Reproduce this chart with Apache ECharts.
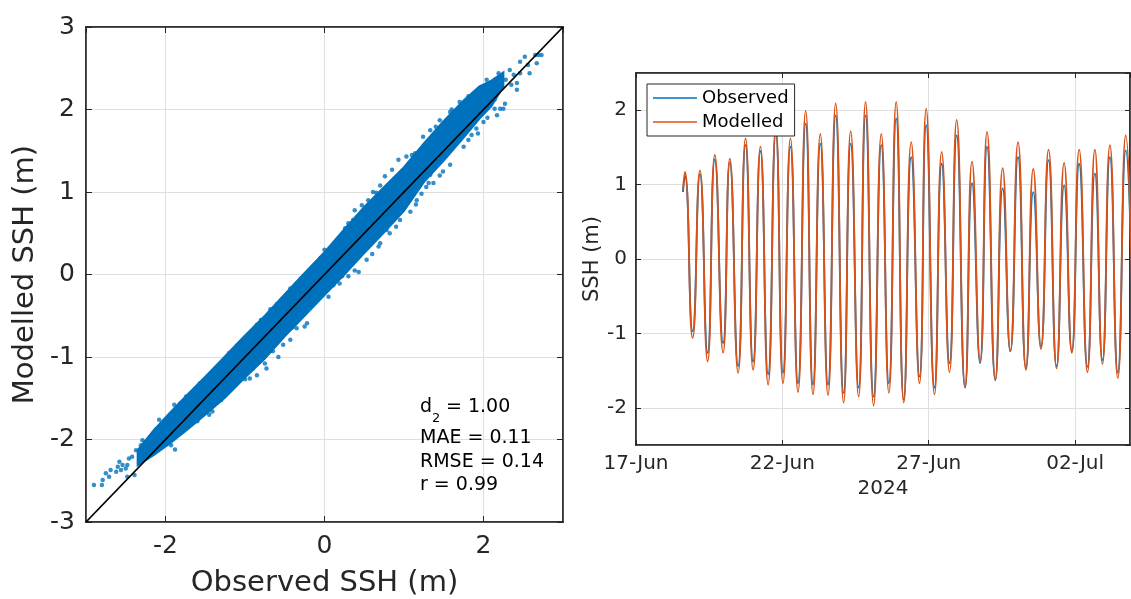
<!DOCTYPE html>
<html>
<head>
<meta charset="utf-8">
<script src="https://cdn.jsdelivr.net/npm/echarts@6/dist/echarts.min.js"></script>
<style>
html,body{margin:0;padding:0;background:#ffffff;}
#chart{width:1131px;height:599px;}
</style>
</head>
<body>
<div id="chart"></div>
<script>
// ---------- Left panel: scatter Observed vs Modelled ----------
// dense core of the point cloud (observed SSH, lower and upper modelled SSH)
const bandObs  = [-2.35, -2.15, -1.95, -1.75, -1.50, -1.25, -1.00, -0.75, -0.50, -0.25, 0.00, 0.25, 0.50, 0.75, 1.00, 1.25, 1.50, 1.75, 1.95, 2.10, 2.25];
const bandLow  = [-2.31, -2.19, -2.05, -1.90, -1.70, -1.49, -1.25, -1.02, -0.75, -0.50, -0.25, 0.00, 0.26, 0.51, 0.77, 1.12, 1.38, 1.66, 1.89, 2.04, 2.28];
const bandHigh = [-2.13, -1.89, -1.68, -1.48, -1.24, -0.99, -0.74, -0.50, -0.24, 0.02, 0.27, 0.55, 0.82, 1.06, 1.30, 1.59, 1.86, 2.11, 2.28, 2.35, 2.45];

// individual scattered points around the cloud
const scatObs = [-2.90,-2.80,-2.79,-2.75,-2.71,-2.69,-2.62,-2.60,-2.58,-2.56,-2.54,-2.50,-2.48,-2.46,-2.48,-2.39,-2.37,-2.31,-2.29,-2.25,
  -2.20,-2.12,-2.10,-2.08,-2.04,-1.97,-1.93,-1.99,-1.89,-1.85,-1.78,-1.74,-1.81,-1.74,-1.66,-1.62,-1.57,-1.43,-1.41,-1.51,
  -1.44,-1.31,-1.23,-1.15,-1.06,-0.96,-0.92,-0.85,-0.73,-0.64,-0.56,-0.48,-0.43,-0.35,-0.25,-0.16,-1.23,-0.94,-0.85,-0.75,
  -0.73,-0.58,-0.52,-0.43,-0.25,-0.22,-0.10,-0.02,0.07,0.15,0.19,0.26,0.36,0.38,0.47,0.55,0.61,0.70,0.76,0.85,
  0.93,1.03,1.14,0.11,0.19,0.38,0.43,0.53,0.68,0.70,0.82,0.95,1.08,1.16,1.22,1.31,1.24,1.33,1.45,1.58,
  1.70,1.81,1.93,2.04,2.08,2.19,2.23,2.33,2.46,2.46,2.52,2.58,2.56,2.67,2.69,2.73,2.65,1.33,1.37,1.49,
  1.58,1.70,1.81,1.85,1.91,1.93,2.00,2.17,2.14,2.21,2.14,2.25,2.27,2.42,2.35,2.42,2.28,2.38,
  -1.35,-1.10,-0.80,-0.60,-0.30,0.00,0.30,0.65,1.10,1.40,1.60,-2.42,-2.22,-2.02,-1.60,-1.30,-1.00,-0.65,-0.35,0.05,
  0.30,0.60,0.90,1.15,1.45,1.75,2.05,-1.20,-0.68,-0.05,0.45,0.98,1.52,-1.88,-1.45,-0.90,-0.40,0.22,0.78,1.28];
const scatMod = [-2.55,-2.55,-2.49,-2.41,-2.45,-2.37,-2.39,-2.33,-2.27,-2.37,-2.31,-2.35,-2.31,-2.23,-2.45,-2.43,-2.13,-2.07,-2.01,-2.03,
  -2.17,-1.88,-1.97,-1.76,-1.86,-2.03,-2.07,-1.80,-1.58,-1.68,-1.76,-1.72,-1.56,-1.48,-1.44,-1.38,-1.32,-1.62,-1.66,-1.60,
  -1.24,-1.16,-1.04,-0.92,-0.85,-0.75,-0.69,-0.61,-0.57,-0.47,-0.35,-0.25,-0.17,-0.11,-0.07,0.01,-1.40,-1.26,-1.22,-1.08,
  -1.14,-1.00,-0.85,-0.79,-0.63,-0.59,0.09,0.14,0.30,0.34,0.42,0.56,0.66,0.78,0.84,0.90,1.00,1.08,1.19,1.27,
  1.39,1.43,1.47,-0.13,-0.11,0.05,0.03,0.18,0.34,0.38,0.50,0.66,0.76,0.90,0.98,1.11,1.67,1.75,1.87,1.97,
  2.09,2.16,2.24,2.36,2.32,2.44,2.40,2.48,2.44,2.58,2.64,2.44,2.54,2.56,2.66,2.66,2.66,1.21,1.11,1.25,
  1.33,1.63,1.63,1.69,1.77,1.71,1.85,1.93,2.01,2.01,2.12,2.01,2.07,2.24,2.30,2.32,2.36,2.42,
  -1.13,-0.86,-0.55,-0.36,-0.05,0.30,0.62,0.99,1.45,1.79,2.00,-2.21,-2.02,-1.80,-1.78,-1.52,-1.27,-0.93,-0.65,-0.27,
  -0.02,0.25,0.58,0.85,1.20,1.55,1.90,-0.95,-0.42,0.20,0.72,1.24,1.82,-2.12,-1.70,-1.14,-0.64,-0.02,0.54,1.06];
const oneToOne = [-3, 3];
const statD2 = '1.00';
const statLines = ['MAE = 0.11', 'RMSE = 0.14', 'r = 0.99'];

// ---------- Right panel: time series (hours after 17-Jun-2024 00:00) ----------
const tideHours = [38.5,
  40.1, 46.4, 52.4, 58.7, 64.6, 71.4, 76.9, 83.7, 89.8, 96.0,
  102.0, 108.3, 114.6, 120.5, 126.6, 132.8, 139.1, 145.1, 151.1, 157.4,
  163.7, 170.2, 176.0, 182.5, 188.2, 194.8, 201.1, 207.3, 213.3, 219.5,
  225.6, 232.4, 237.9, 244.7, 250.6, 257.0, 262.9, 269.8, 275.5, 282.1,
  287.8, 294.6, 300.6, 306.9, 313.2, 319.7, 325.7, 332.0, 338.2, 344.8,
  351.0, 357.3, 363.3, 370.1, 376.2, 382.4, 388.5, 395.0, 401.5, 407.7];
const modelled = [0.93,
  1.17, -1.06, 1.19, -1.375, 1.40, -1.26, 1.35, -1.53, 1.62, -1.49,
  1.51, -1.69, 1.77, -1.67, 1.62, -1.79, 1.99, -1.82, 1.68, -1.83,
  2.09, -1.93, 1.72, -1.85, 2.11, -1.97, 1.68, -1.80, 2.11, -1.93,
  1.57, -1.67, 2.02, -1.82, 1.44, -1.52, 1.87, -1.72, 1.31, -1.37,
  1.71, -1.62, 1.22, -1.24, 1.57, -1.49, 1.21, -1.21, 1.47, -1.47,
  1.29, -1.26, 1.47, -1.52, 1.47, -1.41, 1.53, -1.60, 1.66, -1.45];
const observed = [0.90,
  1.12, -0.97, 1.14, -1.26, 1.34, -1.13, 1.30, -1.44, 1.53, -1.38,
  1.45, -1.55, 1.70, -1.53, 1.51, -1.67, 1.82, -1.69, 1.55, -1.69,
  1.93, -1.80, 1.55, -1.73, 1.93, -1.85, 1.53, -1.67, 1.89, -1.89,
  1.37, -1.58, 1.80, -1.73, 1.28, -1.40, 1.66, -1.73, 1.02, -1.40,
  1.51, -1.63, 0.95, -1.24, 1.37, -1.47, 0.90, -1.18, 1.33, -1.44,
  0.99, -1.24, 1.28, -1.45, 1.15, -1.36, 1.37, -1.53, 1.46, -1.40];
const timeStartUTC = Date.UTC(2024, 5, 17);
const timeAxisMaxH = 405;
const timeTickStepH = 120;
const monthNames = ['Jan','Feb','Mar','Apr','May','Jun','Jul','Aug','Sep','Oct','Nov','Dec'];

// ---------- styling ----------
const FONT = 'DejaVu Sans';
const AX = '#262626';
const GRIDC = '#dfdfdf';
const BLUE = '#0072BD';
const RED = '#D95319';

function dateLabel(h) {
  const d = new Date(timeStartUTC + h * 3600 * 1000);
  const dd = String(d.getUTCDate()).padStart(2, '0');
  return dd + '-' + monthNames[d.getUTCMonth()];
}

function boxAxis(extra) {
  return Object.assign({
    type: 'value',
    axisLine: { show: true, onZero: false, lineStyle: { color: AX, width: 1.5 } },
    axisTick: { show: true, inside: true, length: 6, lineStyle: { color: AX, width: 1 } },
    axisLabel: { show: false },
    splitLine: { show: false }
  }, extra);
}

const chart = echarts.init(document.getElementById('chart'), null, { renderer: 'canvas' });

const option = {
  backgroundColor: '#ffffff',
  animation: false,
  textStyle: { fontFamily: FONT },
  grid: [
    { left: 86, top: 27, width: 477, height: 495, show: true, borderColor: AX, borderWidth: 1.5, backgroundColor: '#fff',
      containLabel: false, outerBoundsMode: 'none' },
    { left: 636, top: 73, width: 494, height: 372, show: true, borderColor: AX, borderWidth: 1.5, backgroundColor: '#fff',
      containLabel: false, outerBoundsMode: 'none' }
  ],
  xAxis: [
    boxAxis({
      gridIndex: 0, position: 'bottom', min: oneToOne[0], max: oneToOne[1], splitNumber: 3,
      axisLabel: { show: true, fontSize: 25, color: AX, fontFamily: FONT, margin: 12, showMinLabel: false, showMaxLabel: false },
      splitLine: { show: true, lineStyle: { color: GRIDC, width: 1 } },
      name: 'Observed SSH (m)', nameLocation: 'middle', nameGap: 47,
      nameTextStyle: { fontSize: 29, color: AX, fontFamily: FONT }
    }),
    boxAxis({ gridIndex: 0, position: 'top', min: oneToOne[0], max: oneToOne[1], splitNumber: 3 }),
    boxAxis({
      gridIndex: 1, position: 'bottom', min: 0, max: timeAxisMaxH, interval: timeTickStepH,
      axisTick: { show: true, inside: true, length: 5, lineStyle: { color: AX, width: 1 } },
      axisLabel: { show: true, fontSize: 20, color: AX, fontFamily: FONT, margin: 9, showMaxLabel: false,
        formatter: function (v) { return dateLabel(v); } },
      splitLine: { show: true, lineStyle: { color: GRIDC, width: 1 } },
      name: '2024', nameLocation: 'middle', nameGap: 33,
      nameTextStyle: { fontSize: 20, color: AX, fontFamily: FONT }
    }),
    boxAxis({ gridIndex: 1, position: 'top', min: 0, max: timeAxisMaxH, interval: timeTickStepH,
      axisTick: { show: true, inside: true, length: 5, lineStyle: { color: AX, width: 1 } } })
  ],
  yAxis: [
    boxAxis({
      gridIndex: 0, position: 'left', min: oneToOne[0], max: oneToOne[1], interval: 1,
      axisLabel: { show: true, fontSize: 25, color: AX, fontFamily: FONT, margin: 11 },
      splitLine: { show: true, lineStyle: { color: GRIDC, width: 1 } },
      name: 'Modelled SSH (m)', nameLocation: 'middle', nameGap: 46, nameRotate: 90,
      nameTextStyle: { fontSize: 29, color: AX, fontFamily: FONT }
    }),
    boxAxis({ gridIndex: 0, position: 'right', min: oneToOne[0], max: oneToOne[1], interval: 1 }),
    boxAxis({
      gridIndex: 1, position: 'left', min: -2.5, max: 2.5, splitNumber: 5,
      axisTick: { show: true, inside: true, length: 5, lineStyle: { color: AX, width: 1 } },
      axisLabel: { show: true, fontSize: 20, color: AX, fontFamily: FONT, margin: 9, showMinLabel: false, showMaxLabel: false },
      splitLine: { show: true, lineStyle: { color: GRIDC, width: 1 } },
      name: 'SSH (m)', nameLocation: 'middle', nameGap: 33, nameRotate: 90,
      nameTextStyle: { fontSize: 21, color: AX, fontFamily: FONT }
    }),
    boxAxis({ gridIndex: 1, position: 'right', min: -2.5, max: 2.5, splitNumber: 5,
      axisTick: { show: true, inside: true, length: 5, lineStyle: { color: AX, width: 1 } } })
  ],
  legend: {
    data: [
      { name: 'Observed', icon: 'rect', itemStyle: { color: BLUE } },
      { name: 'Modelled', icon: 'rect', itemStyle: { color: RED } }
    ],
    orient: 'vertical',
    left: 647, top: 84,
    itemWidth: 44, itemHeight: 1.6, itemGap: 6,
    padding: [5, 6, 5, 6],
    borderColor: AX, borderWidth: 1, backgroundColor: '#ffffff',
    textStyle: { fontSize: 18, color: '#000', fontFamily: FONT, padding: [0, 0, 0, 0] },
    z: 10
  },
  series: [
    {
      type: 'custom',
      xAxisIndex: 0, yAxisIndex: 0,
      data: bandObs.map(function (x, i) { return [x, bandLow[i], bandHigh[i]]; }),
      encode: { x: 0, y: [1, 2] },
      clip: true,
      z: 1,
      renderItem: function (params, api) {
        if (params.dataIndex !== 0) return null;
        const pts = [];
        for (let i = 0; i < bandObs.length; i++) pts.push(api.coord([bandObs[i], bandHigh[i]]));
        for (let i = bandObs.length - 1; i >= 0; i--) pts.push(api.coord([bandObs[i], bandLow[i]]));
        return { type: 'polygon', shape: { points: pts }, style: { fill: BLUE, stroke: BLUE, lineWidth: 2 } };
      }
    },
    {
      type: 'scatter',
      xAxisIndex: 0, yAxisIndex: 0,
      data: scatObs.map(function (x, i) { return [x, scatMod[i]]; }),
      symbol: 'circle', symbolSize: 4.5,
      itemStyle: { color: BLUE },
      z: 2
    },
    {
      type: 'line',
      xAxisIndex: 0, yAxisIndex: 0,
      data: [[oneToOne[0], oneToOne[0]], [oneToOne[1], oneToOne[1]]],
      symbol: 'none',
      lineStyle: { color: '#000', width: 1.8 },
      z: 3
    },
    {
      name: 'Observed',
      type: 'line',
      xAxisIndex: 2, yAxisIndex: 2,
      data: tideHours.map(function (h, i) { return [h, observed[i]]; }),
      symbol: 'none', smooth: 0.55,
      lineStyle: { color: BLUE, width: 1.8 },
      itemStyle: { color: BLUE },
      clip: true, z: 2
    },
    {
      name: 'Modelled',
      type: 'line',
      xAxisIndex: 2, yAxisIndex: 2,
      data: tideHours.map(function (h, i) { return [h, modelled[i]]; }),
      symbol: 'none', smooth: 0.55,
      lineStyle: { color: RED, width: 1.8 },
      itemStyle: { color: RED },
      clip: true, z: 3
    }
  ],
  graphic: [
    { type: 'text', x: 420, y: 398, z: 20, style: { text: 'd', font: '19px "DejaVu Sans"', fill: '#000' } },
    { type: 'text', x: 432, y: 412, z: 20, style: { text: '2', font: '13px "DejaVu Sans"', fill: '#000' } },
    { type: 'text', x: 446, y: 398, z: 20, style: { text: '= ' + statD2, font: '19px "DejaVu Sans"', fill: '#000' } },
    { type: 'text', x: 420, y: 429, z: 20, style: { text: statLines[0], font: '19px "DejaVu Sans"', fill: '#000' } },
    { type: 'text', x: 420, y: 453, z: 20, style: { text: statLines[1], font: '19px "DejaVu Sans"', fill: '#000' } },
    { type: 'text', x: 420, y: 476, z: 20, style: { text: statLines[2], font: '19px "DejaVu Sans"', fill: '#000' } }
  ]
};
chart.setOption(option);
</script>
</body>
</html>
